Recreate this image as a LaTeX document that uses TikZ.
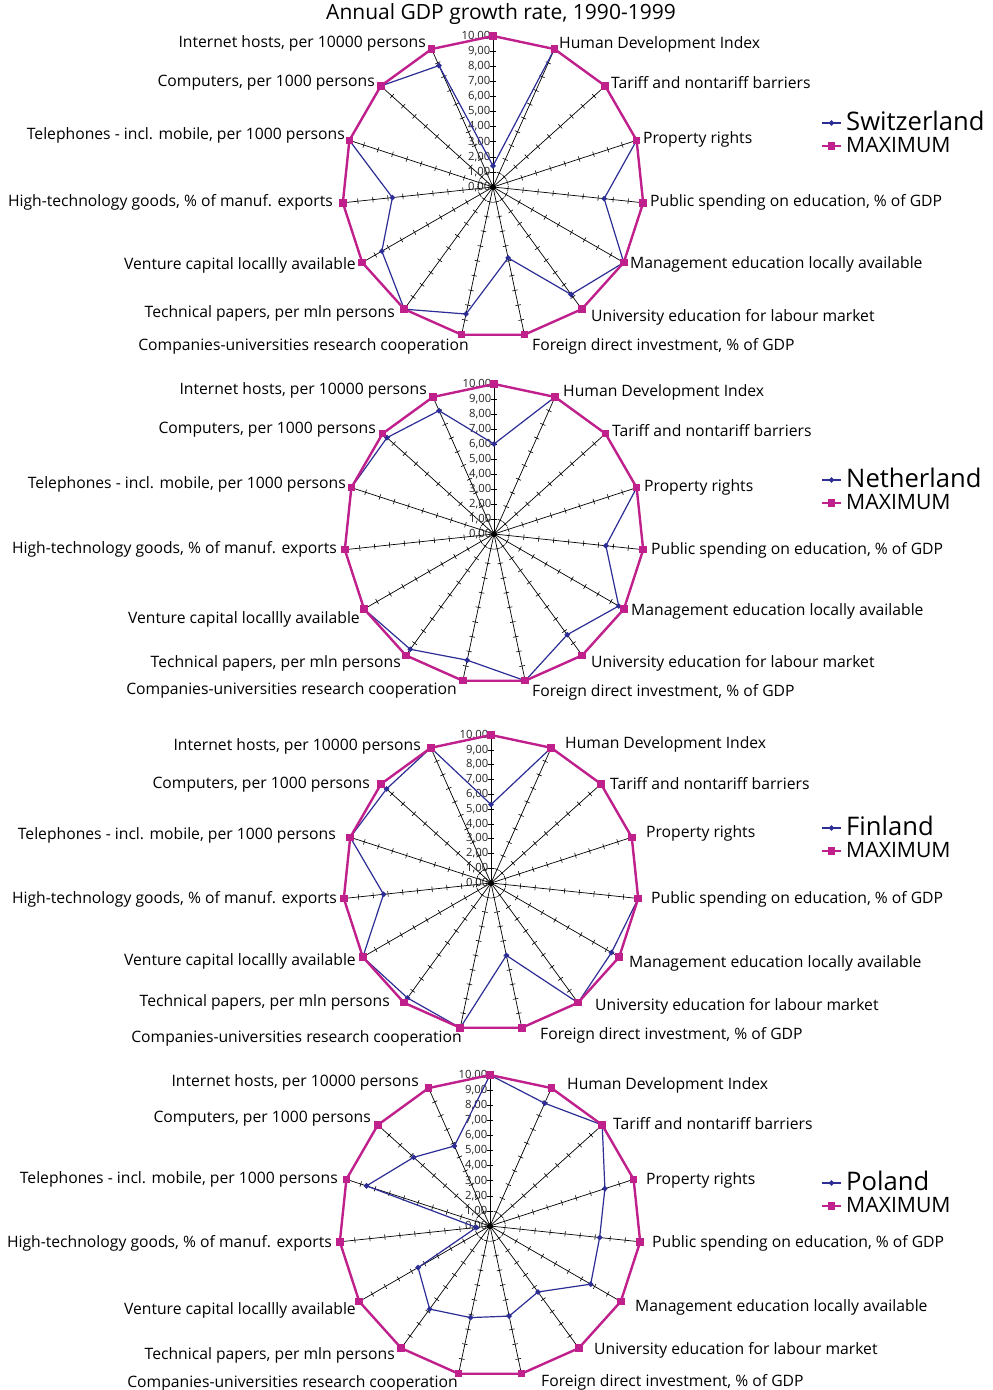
\documentclass[tikz,border=0pt]{standalone}
\usepackage{fontspec}
\setmainfont{Open Sans}
\usetikzlibrary{calc,shapes.geometric}
\definecolor{serblue}{RGB}{45,45,150}
\definecolor{sermag}{RGB}{192,32,140}
\tikzset{
  axisline/.style={draw=black,line width=0.7pt},
  tickmark/.style={draw=black,line width=0.6pt},
  ticklab/.style={font=\fontsize{11.3}{11.3}\selectfont,text=black!85,anchor=east,inner sep=0pt},
  bluepoly/.style={draw=serblue,line width=1.2pt,line join=round},
  magpoly/.style={draw=sermag,line width=2.4pt,line join=round},
  magsq/.style={fill=sermag,draw=none,minimum size=7.5pt,inner sep=0pt,rectangle},
  bluedia/.style={fill=serblue,draw=none,minimum size=6pt,inner sep=0pt,diamond},
  lbl/.style={font=\fontsize{15.7}{15.7}\selectfont,inner sep=0pt,yshift=-1.2pt},
  lblL/.style={lbl,anchor=east},
  lblR/.style={lbl,anchor=west},
  legbig/.style={font=\fontsize{25.6}{25.6}\selectfont,anchor=west,inner sep=0pt},
  legsmall/.style={font=\fontsize{21.2}{21.2}\selectfont,anchor=west,inner sep=0pt},
}
% #1 chart name, #2 centre x, #3 centre y, #4 radius, #5 the 15 values
\newcommand\radarchart[5]{%
  \coordinate (#1-c) at (#2,#3);
  \foreach \i in {0,...,14}{%
    \pgfmathsetmacro\ang{90-24*\i}
    \coordinate (#1-m\i) at ({#2+#4*cos(\ang)},{#3-#4*sin(\ang)});
    \draw[axisline] (#1-c) -- (#1-m\i);
    \foreach \k in {1,...,10}{%
      \draw[tickmark] ({#2+\k*#4/10*cos(\ang)+2.8*sin(\ang)},{#3-\k*#4/10*sin(\ang)+2.8*cos(\ang)})
        -- ++({-5.6*sin(\ang)},{-5.6*cos(\ang)});
    }
  }
  \foreach \k in {0,...,10}{%
    \node[ticklab] (#1-t\k) at ({#2-2.5},{#3-\k*#4/10}) {\k,00};
  }
  \fill[black] (#1-c) circle (3);
  \foreach \v [count=\i from 0] in {#5}{%
    \pgfmathsetmacro\ang{90-24*\i}
    \coordinate (#1-d\i) at ({#2+\v*#4/10*cos(\ang)},{#3-\v*#4/10*sin(\ang)});
  }
  \draw[bluepoly] (#1-d0) \foreach \i in {1,...,14}{ -- (#1-d\i)} -- cycle;
  \foreach \i in {0,...,14}{\node[bluedia] (#1-bd\i) at (#1-d\i) {};}
  \draw[magpoly] (#1-m0) \foreach \i in {1,...,14}{ -- (#1-m\i)} -- cycle;
  \foreach \i in {0,...,14}{\node[magsq] (#1-ms\i) at (#1-m\i) {};}
}
% #1 chart name, #2 legend y, #3 country
\newcommand\chartlegend[3]{%
  \coordinate (#1-la) at (822,{#2+2});
  \coordinate (#1-lb) at (841,{#2+2});
  \draw[draw=serblue,line width=1.2pt] (#1-la) -- (#1-lb);
  \node[bluedia] (#1-lbd) at ($(#1-la)!0.5!(#1-lb)$) {};
  \node[legbig] (#1-lc) at (846,#2) {#3};
  \coordinate (#1-lm) at (822,{#2+25});
  \coordinate (#1-ln) at (841,{#2+25});
  \draw[draw=sermag,line width=2.4pt] (#1-lm) -- (#1-ln);
  \node[magsq] (#1-lsq) at ($(#1-lm)!0.5!(#1-ln)$) {};
  \node[legsmall] (#1-lx) at (846,{#2+24}) {MAXIMUM};
}
\begin{document}
\begin{tikzpicture}[x=1pt,y=-1pt]
\useasboundingbox[fill=white] (0,0) rectangle (993,1390);
\node[font=\fontsize{21}{21}\selectfont,inner sep=0pt] (title) at (501,14) {Annual GDP growth rate, 1990-1999};

% ---------- Switzerland ----------
\radarchart{sw}{493}{187}{151}{1.4,10,10,10,7.4,10,8.8,4.8,8.6,10,8.5,6.7,10,10,8.8}
\chartlegend{sw}{121}{Switzerland}
\node[lblL] (sw-l14) at (426,42) {Internet hosts, per 10000 persons};
\node[lblL] (sw-l13) at (375,81) {Computers, per 1000 persons};
\node[lblL] (sw-l12) at (345,134) {Telephones - incl. mobile, per 1000 persons};
\node[lblL] (sw-l11) at (333,201) {High-technology goods, \% of manuf. exports};
\node[lblL] (sw-l10) at (356,264) {Venture capital locallly available};
\node[lblL] (sw-l9) at (395,312) {Technical papers, per mln persons};
\node[lblL] (sw-l8) at (469,345) {Companies-universities research cooperation};
\node[lblR] (sw-l1) at (559,43) {Human Development Index};
\node[lblR] (sw-l2) at (611,81) {Tariff and nontariff barriers};
\node[lblR] (sw-l3) at (643,138) {Property rights};
\node[lblR] (sw-l4) at (650,201) {Public spending on education, \% of GDP};
\node[lblR] (sw-l5) at (630,263) {Management education locally available};
\node[lblR] (sw-l6) at (591,316) {University education for labour market};
\node[lblR] (sw-l7) at (532,345) {Foreign direct investment, \% of GDP};

% ---------- Netherland ----------
\radarchart{nl}{494}{534}{150}{6.0,10,10,10,7.5,9.6,8.3,10,8.6,9.5,10,10,10,9.6,9.0}
\chartlegend{nl}{478}{Netherland}
\node[lblL] (nl-l14) at (427,389) {Internet hosts, per 10000 persons};
\node[lblL] (nl-l13) at (376,428) {Computers, per 1000 persons};
\node[lblL] (nl-l12) at (346,483) {Telephones - incl. mobile, per 1000 persons};
\node[lblL] (nl-l11) at (337,548) {High-technology goods, \% of manuf. exports};
\node[lblL] (nl-l10) at (360,618) {Venture capital locallly available};
\node[lblL] (nl-l9) at (401,662) {Technical papers, per mln persons};
\node[lblL] (nl-l8) at (457,689) {Companies-universities research cooperation};
\node[lblR] (nl-l1) at (563,391) {Human Development Index};
\node[lblR] (nl-l2) at (612,429) {Tariff and nontariff barriers};
\node[lblR] (nl-l3) at (644,486) {Property rights};
\node[lblR] (nl-l4) at (651,549) {Public spending on education, \% of GDP};
\node[lblR] (nl-l5) at (631,610) {Management education locally available};
\node[lblR] (nl-l6) at (591,662) {University education for labour market};
\node[lblR] (nl-l7) at (532,691) {Foreign direct investment, \% of GDP};

% ---------- Finland ----------
\radarchart{fi}{491}{883}{148}{5.3,10,10,10,10,9.4,10,5.0,10,9.6,10,7.3,10,9.5,10}
\chartlegend{fi}{826}{Finland}
\node[lblL] (fi-l14) at (421,745) {Internet hosts, per 10000 persons};
\node[lblL] (fi-l13) at (370,783) {Computers, per 1000 persons};
\node[lblL] (fi-l12) at (336,834) {Telephones - incl. mobile, per 1000 persons};
\node[lblL] (fi-l11) at (337,898) {High-technology goods, \% of manuf. exports};
\node[lblL] (fi-l10) at (356,960) {Venture capital locallly available};
\node[lblL] (fi-l9) at (390,1001) {Technical papers, per mln persons};
\node[lblL] (fi-l8) at (462,1037) {Companies-universities research cooperation};
\node[lblR] (fi-l1) at (565,743) {Human Development Index};
\node[lblR] (fi-l2) at (610,782) {Tariff and nontariff barriers};
\node[lblR] (fi-l3) at (646,832) {Property rights};
\node[lblR] (fi-l4) at (651,898) {Public spending on education, \% of GDP};
\node[lblR] (fi-l5) at (629,962) {Management education locally available};
\node[lblR] (fi-l6) at (595,1005) {University education for labour market};
\node[lblR] (fi-l7) at (540,1034) {Foreign direct investment, \% of GDP};

% ---------- Poland ----------
\radarchart{pl}{490}{1226}{151}{10,8.9,10,8.0,7.3,7.7,5.4,6.1,6.2,6.8,5.5,0.9,8.6,6.8,5.8}
\chartlegend{pl}{1181}{Poland}
\node[lblL] (pl-l14) at (419,1081) {Internet hosts, per 10000 persons};
\node[lblL] (pl-l13) at (371,1117) {Computers, per 1000 persons};
\node[lblL] (pl-l12) at (338,1178) {Telephones - incl. mobile, per 1000 persons};
\node[lblL] (pl-l11) at (332,1242) {High-technology goods, \% of manuf. exports};
\node[lblL] (pl-l10) at (356,1309) {Venture capital locallly available};
\node[lblL] (pl-l9) at (395,1354) {Technical papers, per mln persons};
\node[lblL] (pl-l8) at (458,1382) {Companies-universities research cooperation};
\node[lblR] (pl-l1) at (567,1084) {Human Development Index};
\node[lblR] (pl-l2) at (613,1122) {Tariff and nontariff barriers};
\node[lblR] (pl-l3) at (646,1179) {Property rights};
\node[lblR] (pl-l4) at (652,1242) {Public spending on education, \% of GDP};
\node[lblR] (pl-l5) at (635,1306) {Management education locally available};
\node[lblR] (pl-l6) at (594,1349) {University education for labour market};
\node[lblR] (pl-l7) at (541,1381) {Foreign direct investment, \% of GDP};
\end{tikzpicture}
\end{document}
